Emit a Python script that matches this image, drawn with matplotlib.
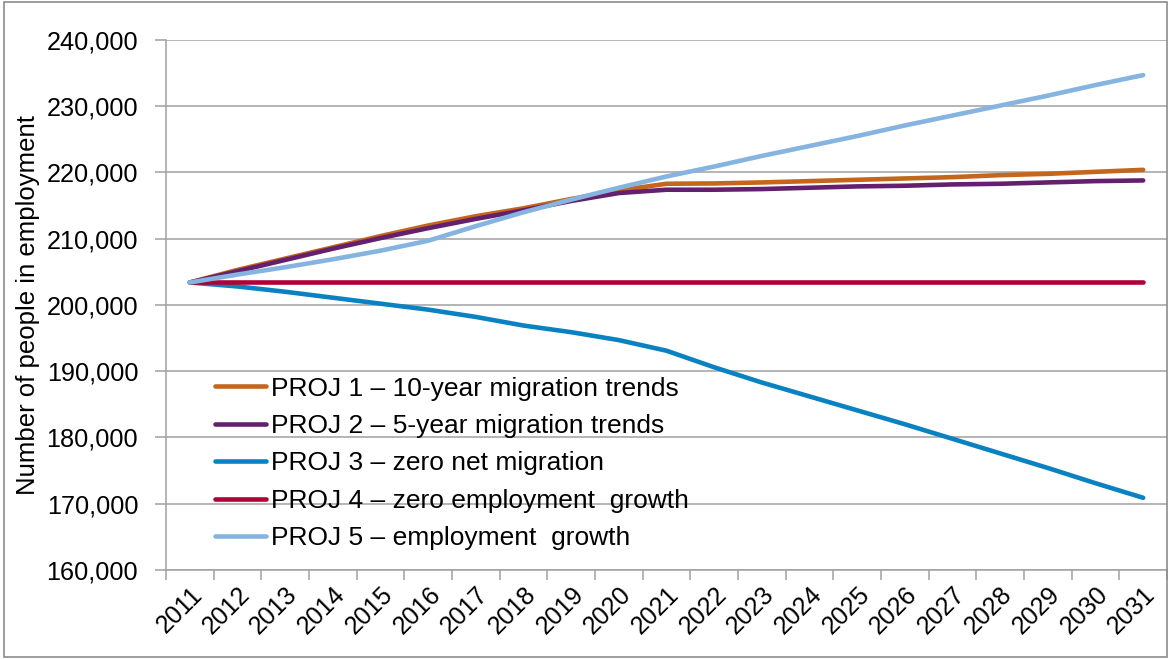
import matplotlib.pyplot as plt
import matplotlib.patches as mpatches
from matplotlib.ticker import FuncFormatter
import numpy as np

plt.rcParams['font.family'] = ['Liberation Sans', 'DejaVu Sans']

years = [str(y) for y in range(2011, 2032)]

proj1 = [203400, 205300, 207000, 208700, 210400, 212000, 213400, 214600, 216000, 217300, 218300,
         218350, 218500, 218700, 218900, 219100, 219300, 219600, 219800, 220100, 220400]
proj2 = [203400, 205100, 206800, 208500, 210100, 211600, 213000, 214300, 215700, 216900, 217400,
         217400, 217500, 217700, 217900, 218000, 218200, 218300, 218500, 218700, 218800]
proj3 = [203400, 202800, 202000, 201100, 200200, 199300, 198200, 196900, 195900, 194700, 193100,
         190600, 188300, 186200, 184100, 182000, 179800, 177600, 175400, 173100, 170900]
proj4 = [203400] * 21
proj5 = [203400, 204600, 205700, 206900, 208200, 209700, 211900, 214000, 215900, 217700, 219400,
         220900, 222500, 224000, 225500, 227100, 228600, 230100, 231600, 233200, 234700]

labels = ["PROJ 1 \u2013 10-year migration trends",
          "PROJ 2 \u2013 5-year migration trends",
          "PROJ 3 \u2013 zero net migration",
          "PROJ 4 \u2013 zero employment  growth",
          "PROJ 5 \u2013 employment  growth"]
colors = ['#C4661C', '#64206E', '#0A82C2', '#AE0136', '#86B4E0']

fig = plt.figure(figsize=(11.7, 6.59), dpi=100)
fig.patch.set_facecolor('white')
ax = fig.add_axes([166 / 1170, 1 - 570 / 659, (1167 - 166) / 1170, (570 - 40) / 659])

# outer chart border
fig.patches.append(mpatches.Rectangle((4 / 1170, 2 / 659), 1163 / 1170, 655 / 659,
                                      transform=fig.transFigure, fill=False,
                                      edgecolor='#8C8C8C', linewidth=1.2))

x = np.arange(len(years))
for data, lab, col in zip([proj1, proj2, proj3, proj4, proj5], labels, colors):
    ax.plot(x, data, color=col, linewidth=3.3, label=lab, solid_capstyle='round',
            solid_joinstyle='round')

ax.set_xlim(-0.5, len(years) - 0.5)
ax.set_ylim(160000, 240000)
ax.set_yticks(np.arange(160000, 240001, 10000))
ax.yaxis.set_major_formatter(FuncFormatter(lambda v, p: f'{int(v):,}'))
ax.grid(axis='y', color='#A0A0A0', linewidth=1.1)
ax.set_axisbelow(True)

# category boundaries get the tick marks, labels sit at the centres
ax.set_xticks(np.arange(-0.5, len(years), 1.0))
ax.set_xticklabels([])
ax.set_xticks(x, minor=True)
ax.set_xticklabels(years, minor=True, rotation=45, ha='right', rotation_mode='anchor',
                   fontsize=18)
ax.tick_params(axis='x', which='minor', length=0, pad=9)
ax.tick_params(axis='x', which='major', length=7, color='#A0A0A0', width=1.1)
ax.tick_params(axis='y', length=8, color='#A0A0A0', width=1.1, labelsize=18.2, pad=12)

for side in ['top', 'right']:
    ax.spines[side].set_visible(False)
for side in ['left', 'bottom']:
    ax.spines[side].set_color('#A0A0A0')
    ax.spines[side].set_linewidth(1.1)

ax.set_ylabel("Number of people in employment", fontsize=18.5, labelpad=5)

ax.legend(loc='upper left', bbox_to_anchor=(0.038, 0.385), frameon=False, fontsize=19,
          handlelength=1.95, handletextpad=0.2, labelspacing=0.51, borderaxespad=0)

fig.savefig('out.png', dpi=100, facecolor='white')
